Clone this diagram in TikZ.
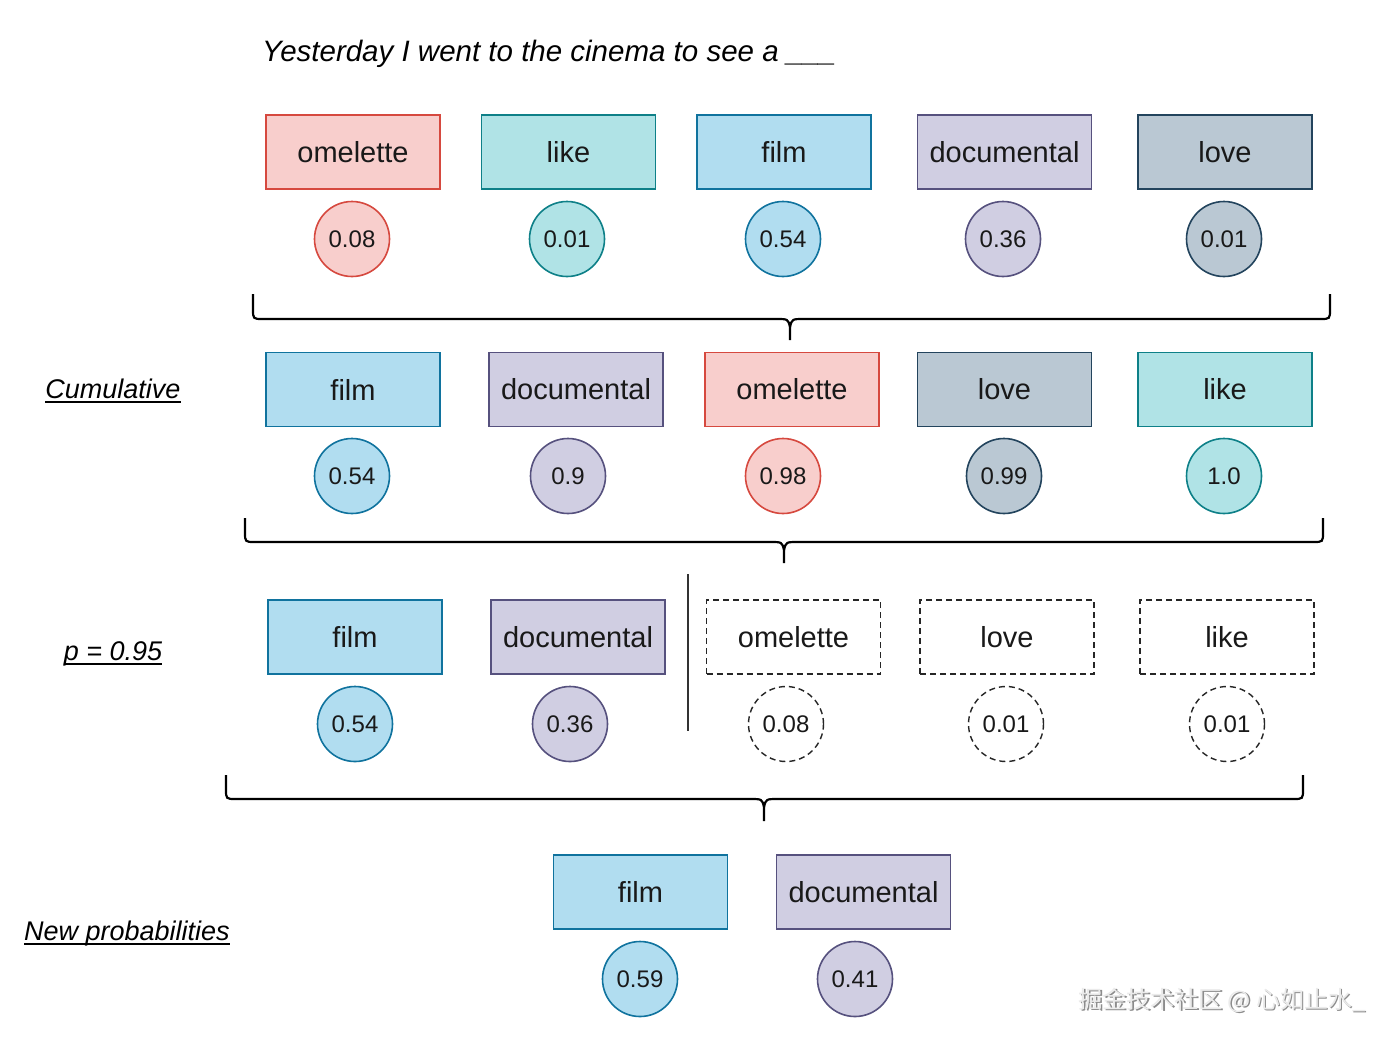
\documentclass[tikz,border=0pt]{standalone}
\usepackage{fontspec}
\setmainfont{Liberation Sans}
\newfontfamily\cjkfont{Noto Sans CJK SC}
\definecolor{redF}{HTML}{F8CECC}\definecolor{redD}{HTML}{D6493F}
\definecolor{tealF}{HTML}{B0E3E6}\definecolor{tealD}{HTML}{0E8088}
\definecolor{blueF}{HTML}{B1DDF0}\definecolor{blueD}{HTML}{10739E}
\definecolor{purpF}{HTML}{D0CEE2}\definecolor{purpD}{HTML}{56517E}
\definecolor{grayF}{HTML}{BAC8D3}\definecolor{grayD}{HTML}{23445D}
\tikzset{
  word/.style={rectangle,minimum width=174pt,minimum height=74pt,inner sep=0pt,line width=1.6pt,font=\fontsize{29}{34}\selectfont,text=black!90},
  prob/.style={circle,minimum size=75pt,inner sep=0pt,line width=1.6pt,font=\fontsize{24}{28}\selectfont,text=black!90},
  cred/.style={fill=redF,draw=redD},
  cteal/.style={fill=tealF,draw=tealD},
  cblue/.style={fill=blueF,draw=blueD},
  cpurp/.style={fill=purpF,draw=purpD},
  cgray/.style={fill=grayF,draw=grayD},
  cdash/.style={draw=black!85,dash pattern=on 6pt off 4pt,line width=1.4pt},
  bracel/.style={line width=2.2pt,black},
  lbl/.style={inner sep=0pt,font=\fontsize{27}{32}\selectfont\itshape,anchor=base},
  uline/.style={line width=1.3pt}
}
\begin{document}
\begin{tikzpicture}[x=1pt,y=-1pt]
\useasboundingbox[fill=white] (0,0) rectangle (1400,1042);

% title
\node[inner sep=0pt,anchor=base west,font=\fontsize{29.5}{34}\selectfont\itshape] (title) at (262,61) {Yesterday I went to the cinema to see a \_\_\_};

% row 1
\node[word,cred]  (a1) at (353,152) {omelette};
\node[word,cteal] (a2) at (568.5,152) {like};
\node[word,cblue] (a3) at (784,152) {film};
\node[word,cpurp] (a4) at (1004.5,152) {documental};
\node[word,cgray] (a5) at (1225,152) {love};
\node[prob,cred]  (p1) at (352,239) {0.08};
\node[prob,cteal] (p2) at (567,239) {0.01};
\node[prob,cblue] (p3) at (783,239) {0.54};
\node[prob,cpurp] (p4) at (1003,239) {0.36};
\node[prob,cgray] (p5) at (1224,239) {0.01};

\draw[bracel] (253,294) -- (253,309) .. controls (253,319) .. (263,319) -- (776,319) .. controls (788,319) .. (790,327) -- (790,340);
\draw[bracel] (790,327) .. controls (792,319) .. (804,319) -- (1320,319) .. controls (1330,319) .. (1330,309) -- (1330,294);

% row 2
\node[lbl] (lcum) at (113,398) {Cumulative};
\draw[uline] ([yshift=-4pt]lcum.base west) -- ([yshift=-4pt]lcum.base east);
\node[word,cblue] (b1) at (353,389.5) {film};
\node[word,cpurp] (b2) at (576,389.5) {documental};
\node[word,cred]  (b3) at (792,389.5) {omelette};
\node[word,cgray] (b4) at (1004.5,389.5) {love};
\node[word,cteal] (b5) at (1225,389.5) {like};
\node[prob,cblue] (q1) at (352,476) {0.54};
\node[prob,cpurp] (q2) at (568,476) {0.9};
\node[prob,cred]  (q3) at (783,476) {0.98};
\node[prob,cgray] (q4) at (1004,476) {0.99};
\node[prob,cteal] (q5) at (1224,476) {1.0};

\draw[bracel] (245,518) -- (245,532) .. controls (245,542) .. (255,542) -- (770,542) .. controls (782,542) .. (784,550) -- (784,563);
\draw[bracel] (784,550) .. controls (786,542) .. (798,542) -- (1313,542) .. controls (1323,542) .. (1323,532) -- (1323,518);

% row 3
\node[lbl] (lp) at (113,660) {p = 0.95};
\draw[uline] ([yshift=-4pt]lp.base west) -- ([yshift=-4pt]lp.base east);
\node[word,cblue] (c1) at (355,637) {film};
\node[word,cpurp] (c2) at (578,637) {documental};
\node[word,cdash] (c3) at (793.5,637) {omelette};
\node[word,cdash] (c4) at (1007,637) {love};
\node[word,cdash] (c5) at (1227,637) {like};
\node[prob,cblue] (r1) at (355,724) {0.54};
\node[prob,cpurp] (r2) at (570,724) {0.36};
\node[prob,cdash] (r3) at (786,724) {0.08};
\node[prob,cdash] (r4) at (1006,724) {0.01};
\node[prob,cdash] (r5) at (1227,724) {0.01};
\coordinate (cutT) at (688,574);
\coordinate (cutB) at (688,731);
\draw[line width=2.5pt,black!80] (cutT) -- (cutB);

\draw[bracel] (226,775) -- (226,789) .. controls (226,799) .. (236,799) -- (750,799) .. controls (762,799) .. (764,807) -- (764,821);
\draw[bracel] (764,807) .. controls (766,799) .. (778,799) -- (1293,799) .. controls (1303,799) .. (1303,789) -- (1303,775);

% row 4
\node[lbl] (lnew) at (127,940) {New probabilities};
\draw[uline] ([yshift=-4pt]lnew.base west) -- ([yshift=-4pt]lnew.base east);
\node[word,cblue] (d1) at (640.5,892) {film};
\node[word,cpurp] (d2) at (863.5,892) {documental};
\node[prob,cblue] (s1) at (640,979) {0.59};
\node[prob,cpurp] (s2) at (855,979) {0.41};

% watermark
\node[inner sep=0pt,font=\fontsize{24}{28}\cjkfont,text=black!45] (wm0) at (1223.5,1001.5) {掘金技术社区 @ 心如止水\_};
\node[inner sep=0pt,font=\fontsize{24}{28}\cjkfont,text=black!8] (wm) at (1222,1000) {掘金技术社区 @ 心如止水\_};
\end{tikzpicture}
\end{document}
